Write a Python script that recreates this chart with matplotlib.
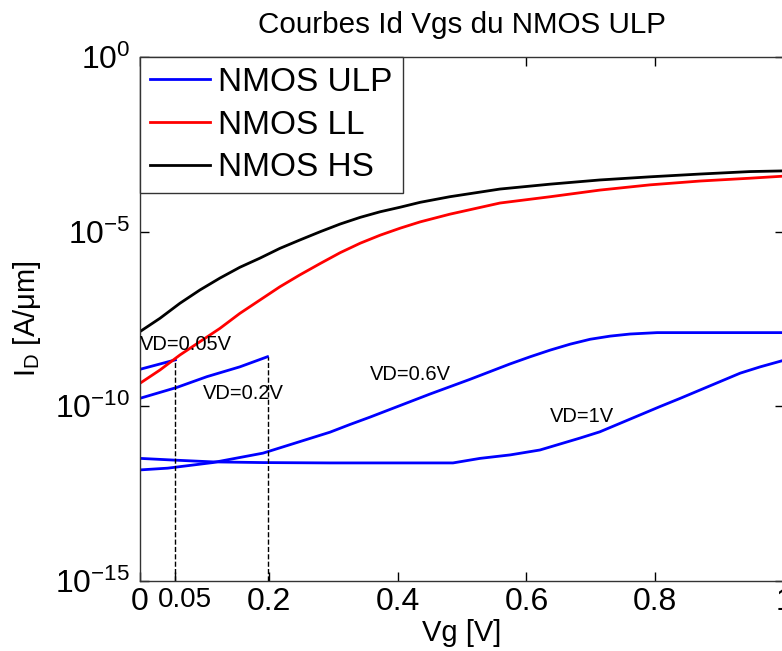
import numpy as np
import matplotlib
matplotlib.use('Agg')
import matplotlib.pyplot as plt
from matplotlib import transforms

plt.rcParams['font.family'] = ['Liberation Sans', 'DejaVu Sans']
plt.rcParams['axes.unicode_minus'] = False

# data (log10 of Id in A/um)
vg_hs = [0.0, 0.031, 0.062, 0.093, 0.124, 0.155, 0.186, 0.217, 0.248, 0.280, 0.311,
         0.342, 0.373, 0.404, 0.435, 0.481, 0.559, 0.637, 0.714, 0.792, 0.870, 0.947, 1.0]
logid_hs = [-7.86, -7.48, -7.05, -6.67, -6.33, -6.02, -5.76, -5.48, -5.24, -5.00, -4.78,
            -4.59, -4.43, -4.30, -4.16, -4.00, -3.78, -3.64, -3.52, -3.43, -3.35, -3.28, -3.26]

vg_ll = [0.0, 0.031, 0.062, 0.093, 0.124, 0.155, 0.186, 0.217, 0.248, 0.280, 0.311,
         0.342, 0.373, 0.404, 0.435, 0.481, 0.559, 0.637, 0.714, 0.792, 0.870, 0.947, 1.0]
logid_ll = [-9.34, -8.96, -8.53, -8.15, -7.77, -7.34, -6.96, -6.58, -6.24, -5.91, -5.60,
            -5.33, -5.10, -4.90, -4.72, -4.50, -4.18, -4.00, -3.81, -3.66, -3.55, -3.47, -3.41]

vg_005 = [0.0, 0.055]
logid_005 = [-8.94, -8.67]

vg_02 = [0.0, 0.057, 0.104, 0.155, 0.198]
logid_02 = [-9.77, -9.46, -9.15, -8.87, -8.58]

vg_06 = [0.0, 0.043, 0.113, 0.191, 0.243, 0.295, 0.326, 0.357, 0.388, 0.419, 0.450, 0.481,
         0.512, 0.543, 0.574, 0.606, 0.637, 0.668, 0.699, 0.730, 0.761, 0.803, 1.0]
logid_06 = [-11.82, -11.77, -11.61, -11.34, -11.04, -10.74, -10.52, -10.31, -10.09, -9.87,
            -9.65, -9.44, -9.23, -9.01, -8.79, -8.58, -8.39, -8.22, -8.08, -7.99, -7.93,
            -7.89, -7.89]

vg_1 = [0.0, 0.054, 0.113, 0.191, 0.295, 0.486, 0.528, 0.575, 0.621, 0.652, 0.683, 0.714,
        0.745, 0.776, 0.807, 0.839, 0.870, 0.901, 0.932, 0.963, 1.0]
logid_1 = [-11.49, -11.54, -11.59, -11.61, -11.62, -11.62, -11.49, -11.39, -11.25, -11.08,
           -10.91, -10.73, -10.49, -10.25, -10.01, -9.77, -9.53, -9.29, -9.05, -8.87, -8.68]

xticks = [0, 0.055, 0.2, 0.4, 0.6, 0.8, 1]
xticklabels = ['0', '0.05', '0.2', '0.4', '0.6', '0.8', '1']
yticks = [1e-15, 1e-10, 1e-5, 1e0]

fig = plt.figure(figsize=(7.82, 6.51), dpi=100)
ax = fig.add_axes([140/782, 70/651, 644/782, 524/651])

blue = (0, 0, 1)
l_ulp, = ax.semilogy(vg_005, 10**np.array(logid_005), color=blue, lw=2)
ax.semilogy(vg_02, 10**np.array(logid_02), color=blue, lw=2)
ax.semilogy(vg_06, 10**np.array(logid_06), color=blue, lw=2)
ax.semilogy(vg_1, 10**np.array(logid_1), color=blue, lw=2)
l_ll, = ax.semilogy(vg_ll, 10**np.array(logid_ll), color='red', lw=2)
l_hs, = ax.semilogy(vg_hs, 10**np.array(logid_hs), color='black', lw=2)

# dashed markers down to the axis
ax.plot([vg_005[-1]] * 2, [1e-15, 10**logid_005[-1]], 'k--', lw=1)
ax.plot([vg_02[-1]] * 2, [1e-15, 10**logid_02[-1]], 'k--', lw=1)

ax.text(0.0, 10**-8.24, 'VD=0.05V', fontsize=14.5, va='center', ha='left')
ax.text(0.098, 10**-9.62, 'VD=0.2V', fontsize=14.5, va='center', ha='left')
ax.text(0.357, 10**-9.10, 'VD=0.6V', fontsize=14.5, va='center', ha='left')
ax.text(0.637, 10**-10.28, 'VD=1V', fontsize=14.5, va='center', ha='left')

ax.set_xlim(0, 1)
ax.set_ylim(1e-15, 1)
ax.set_yticks(yticks)
ax.yaxis.set_minor_locator(matplotlib.ticker.NullLocator())
ax.set_xticks(xticks)
ax.set_xticklabels(xticklabels)
ax.tick_params(direction='in', length=6.5, width=1, top=True, right=True,
               labelsize=23)
ax.tick_params(axis='x', pad=4)
ax.tick_params(axis='y', pad=7)
lab = ax.get_xticklabels()[1]
lab.set_fontsize(20)
lab.set_transform(lab.get_transform() + transforms.ScaledTranslation(10/100, 0, fig.dpi_scale_trans))

for s in ax.spines.values():
    s.set_color('#333333')
    s.set_linewidth(1)

ax.set_title('Courbes Id Vgs du NMOS ULP', fontsize=21.3, pad=17)
ax.set_xlabel('Vg [V]', fontsize=21, labelpad=2)
ax.set_ylabel(r'I$_\mathregular{D}$ [A/μm]', fontsize=21, labelpad=9)

leg = ax.legend([l_ulp, l_ll, l_hs], ['NMOS ULP', 'NMOS LL', 'NMOS HS'],
                loc='upper left', fontsize=24, fancybox=False, framealpha=1,
                edgecolor='#333333', borderaxespad=0, handlelength=1.8,
                handletextpad=0.25, labelspacing=0.35, borderpad=0.3)
leg.get_frame().set_linewidth(1)

fig.savefig('out.png', dpi=100)
